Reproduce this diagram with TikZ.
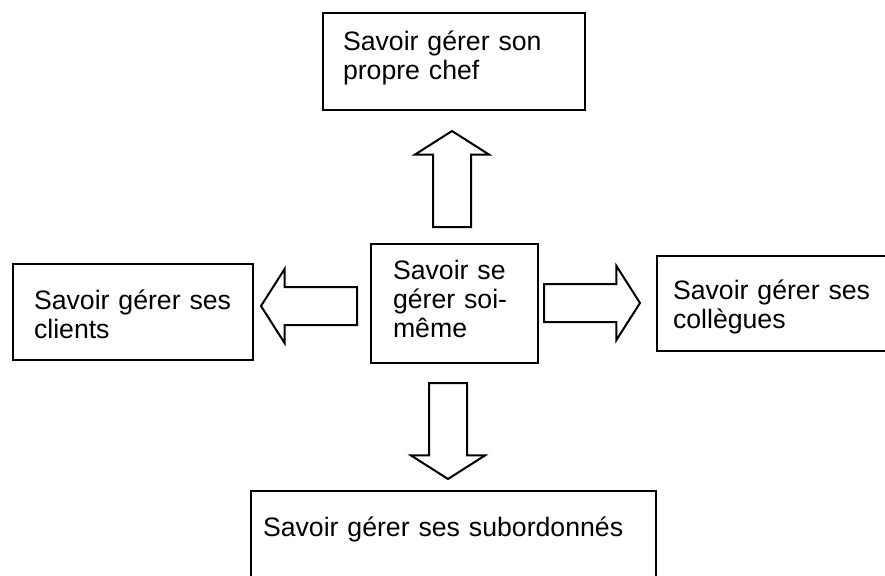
\documentclass[tikz,border=0pt]{standalone}
\usepackage{fontspec}
\setmainfont{Liberation Sans}
\usetikzlibrary{positioning,shapes.arrows}
\tikzset{
  cadre/.style={draw,line width=1.5pt,anchor=north west,align=left,inner ysep=0pt,
    font=\fontsize{20}{22}\selectfont},
  fleche/.style={draw,line width=1.5pt,single arrow,inner sep=13.5pt,
    single arrow head extend=13.5pt,single arrow tip angle=115,
    minimum height=72pt,anchor=tail}
}

\begin{document}
\begin{tikzpicture}[x=0.75pt,y=-0.75pt]
  \path[use as bounding box,clip] (0,0) rectangle (885,575);
  % centre
  \node[cadre,minimum width=125.25pt,text width=92.25pt,inner xsep=16.5pt,
    text height=26.25pt,text depth=63pt] (centre) at (370,243) {Savoir se\\gérer soi-\\même};
  % les quatre cadres autour
  \node[cadre,minimum width=196.5pt,text width=166.5pt,inner xsep=15pt,
    text height=27.75pt,text depth=45pt] (chef) at (322,12) {Savoir gérer son\\propre chef};
  \node[cadre,minimum width=180pt,text width=148.5pt,inner xsep=15.75pt,
    text height=33.75pt,text depth=38.25pt] (clients) at (12,263) {Savoir gérer ses\\clients};
  \node[cadre,minimum width=195pt,text width=171pt,inner xsep=12pt,
    text height=32.25pt,text depth=39pt] (collegues) at (656,255) {Savoir gérer ses\\collègues};
  \node[cadre,minimum width=303.75pt,text width=285.75pt,inner xsep=9pt,
    text height=33.75pt,text depth=75pt] (subordonnes) at (250,490) {Savoir gérer ses subordonnés};
  % fleches
  \foreach \nom/\x/\y/\a in {haut/452/228/90,gauche/358/306/180,droite/543/303/0,bas/448/382/270}{
    \node[fleche,shape border rotate=\a] (fl\nom) at (\x,\y) {};
  }
\end{tikzpicture}
\end{document}
